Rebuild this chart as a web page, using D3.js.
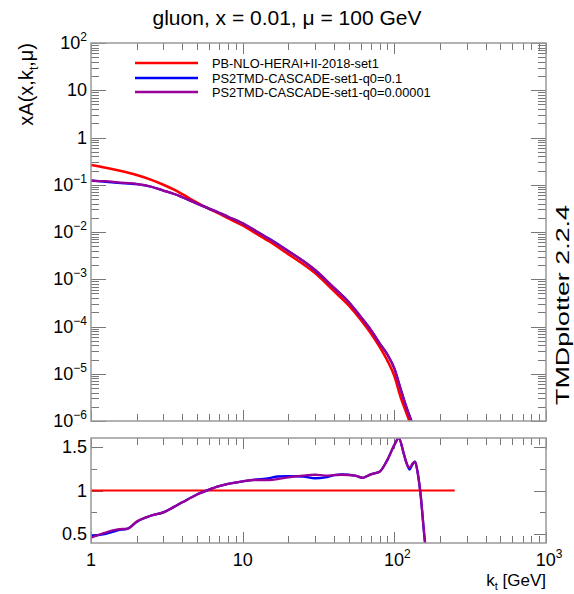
<!DOCTYPE html>
<meta charset="utf-8">
<script src="https://d3js.org/d3.v7.min.js"></script>
<style>
  body { margin: 0; background: #fff; }
  text { font-family: "Liberation Sans", Arial, sans-serif; fill: #000; }
</style>
<div id="chart"></div>
<script>

// kt grid for the upper panel (GeV)
var kt = [1, 1.25, 1.5, 2, 2.5, 3, 3.5, 4, 5, 6, 7, 8, 10, 12, 15, 20, 25, 30, 40, 50,
          60, 70, 80, 90, 100, 110, 120, 130, 140, 160, 200, 250];
var redVals = [0.262, 0.229, 0.202, 0.1607, 0.127, 0.1002, 0.0795, 0.063, 0.0418, 0.031, 0.0244, 0.0196,
               0.0138, 0.0097, 0.0063, 0.0034, 0.0021, 0.00135, 5.6e-4, 2.8e-4,
               1.4e-4, 7.2e-5, 3.7e-5, 1.9e-5, 9e-6, 3.2e-6, 1.5e-6, 7.5e-7, 4e-7, 1.2e-7, 2e-8, 2e-9];
var blueVals = [0.124, 0.1156, 0.110, 0.1028, 0.0907, 0.0752, 0.0644, 0.0545, 0.0399, 0.0313, 0.0256, 0.0211,
                0.01525, 0.0109, 0.00718, 0.00396, 0.00244, 0.00154, 6.58e-4, 3.3e-4,
                1.61e-4, 8.5e-5, 4.4e-5, 2.55e-5, 1.3e-5, 4.8e-6, 1.98e-6, 9.75e-7, 5.1e-7, 4.6e-8, null, null];
var purpleVals = [0.121, 0.119, 0.112, 0.1037, 0.0907, 0.0752, 0.0644, 0.0545, 0.0399, 0.0313, 0.0256, 0.0211,
                  0.01525, 0.0109, 0.00706, 0.00391, 0.00246, 0.00159, 6.58e-4, 3.3e-4,
                  1.61e-4, 8.5e-5, 4.4e-5, 2.55e-5, 1.3e-5, 4.8e-6, 1.98e-6, 9.75e-7, 5.1e-7, 4.6e-8, null, null];

// ratio panel (to PB-NLO-HERAI+II-2018-set1)
var ratioKt = [1, 1.25, 1.5, 1.75, 2, 2.5, 3, 3.5, 4, 5, 6, 7, 8, 10, 12, 15, 17, 20, 25, 30, 35, 40,
               45, 55, 62, 70, 80, 90, 100, 107, 115, 120, 126, 132, 137, 142, 148, 160, 170];
var ratioBlue = [0.48, 0.505, 0.545, 0.565, 0.64, 0.714, 0.75, 0.81, 0.865, 0.955, 1.01, 1.05, 1.075, 1.105,
                 1.125, 1.14, 1.16, 1.165, 1.16, 1.14, 1.15, 1.175, 1.185, 1.17, 1.145, 1.185, 1.215,
                 1.35, 1.52, 1.6, 1.43, 1.32, 1.24, 1.3, 1.33, 1.22, 1.0, 0.38, 0.1];
var ratioPurple = [0.46, 0.52, 0.555, 0.565, 0.645, 0.714, 0.75, 0.81, 0.865, 0.955, 1.01, 1.05, 1.075, 1.105,
                   1.12, 1.12, 1.13, 1.15, 1.17, 1.18, 1.17, 1.175, 1.18, 1.17, 1.145, 1.185, 1.215,
                   1.35, 1.52, 1.6, 1.43, 1.32, 1.26, 1.31, 1.33, 1.22, 1.0, 0.38, 0.1];
var ratioRefKt = [1, 250];
var ratioRef = [1, 1];

var seriesNames = ["PB-NLO-HERAI+II-2018-set1", "PS2TMD-CASCADE-set1-q0=0.1", "PS2TMD-CASCADE-set1-q0=0.00001"];
var seriesColors = ["#ff0000", "#0000ff", "#990099"];

var yTickExp = [2, 1, 0, -1, -2, -3, -4, -5, -6];
var xTickExp = [0, 1, 2, 3];
var ratioTicks = [0.5, 1, 1.5];

var W = 574, H = 594;
var left = 91, right = 546;
var top1 = 43, bot1 = 421;
var top2 = 438, bot2 = 543;

var svg = d3.select("#chart").append("svg")
  .attr("width", W).attr("height", H);

var x = d3.scaleLog().domain([1, 1000]).range([left, right]);
var y = d3.scaleLog().domain([1e-6, 100]).range([bot1, top1]);
var yr = d3.scaleLinear().domain([0.4, 1.6]).range([bot2, top2]);

var axisCol = "#777";

// clip paths
var defs = svg.append("defs");
defs.append("clipPath").attr("id", "clip1").append("rect")
  .attr("x", left).attr("y", top1).attr("width", right - left).attr("height", bot1 - top1);
defs.append("clipPath").attr("id", "clip2").append("rect")
  .attr("x", left).attr("y", top2).attr("width", right - left).attr("height", bot2 - top2);

// minor log ticks
function logTicks(lo, hi) {
  var out = [];
  for (var e = lo; e < hi; e++) {
    for (var m = 2; m <= 9; m++) out.push(m * Math.pow(10, e));
  }
  return out;
}

function drawXTicks(yTop, yBot) {
  var g = svg.append("g").attr("stroke", axisCol).attr("stroke-width", 1);
  var majors = xTickExp.map(function(e) { return Math.pow(10, e); });
  var minors = logTicks(0, 3);
  [[majors, 11], [minors, 7]].forEach(function(p) {
    g.selectAll(null).data(p[0]).enter().append("line")
      .attr("x1", function(d) { return Math.round(x(d)) + 0.5; })
      .attr("x2", function(d) { return Math.round(x(d)) + 0.5; })
      .attr("y1", yBot).attr("y2", yBot - p[1]);
    g.selectAll(null).data(p[0]).enter().append("line")
      .attr("x1", function(d) { return Math.round(x(d)) + 0.5; })
      .attr("x2", function(d) { return Math.round(x(d)) + 0.5; })
      .attr("y1", yTop).attr("y2", yTop + p[1]);
  });
}

// upper panel y ticks
var g1 = svg.append("g").attr("stroke", axisCol).attr("stroke-width", 1);
var yMaj = yTickExp.map(function(e) { return Math.pow(10, e); });
var yMin = logTicks(-6, 2);
[[yMaj, 15], [yMin, 8]].forEach(function(p) {
  g1.selectAll(null).data(p[0]).enter().append("line")
    .attr("x1", left).attr("x2", left + p[1])
    .attr("y1", function(d) { return Math.round(y(d)) + 0.5; })
    .attr("y2", function(d) { return Math.round(y(d)) + 0.5; });
  g1.selectAll(null).data(p[0]).enter().append("line")
    .attr("x1", right).attr("x2", right - p[1])
    .attr("y1", function(d) { return Math.round(y(d)) + 0.5; })
    .attr("y2", function(d) { return Math.round(y(d)) + 0.5; });
});
drawXTicks(top1, bot1);

// ratio panel y ticks
var g2 = svg.append("g").attr("stroke", axisCol).attr("stroke-width", 1);
[[ratioTicks, 12], [[0.75, 1.25], 6]].forEach(function(p) {
  g2.selectAll(null).data(p[0]).enter().append("line")
    .attr("x1", left).attr("x2", left + p[1])
    .attr("y1", function(d) { return Math.round(yr(d)) + 0.5; })
    .attr("y2", function(d) { return Math.round(yr(d)) + 0.5; });
  g2.selectAll(null).data(p[0]).enter().append("line")
    .attr("x1", right).attr("x2", right - p[1])
    .attr("y1", function(d) { return Math.round(yr(d)) + 0.5; })
    .attr("y2", function(d) { return Math.round(yr(d)) + 0.5; });
});
drawXTicks(top2, bot2);

// curves
var line1 = d3.line()
  .defined(function(d) { return d[1] != null; })
  .x(function(d) { return x(d[0]); })
  .y(function(d) { return y(d[1]); })
  .curve(d3.curveMonotoneX);
var line2 = d3.line()
  .x(function(d) { return x(d[0]); })
  .y(function(d) { return yr(d[1]); })
  .curve(d3.curveMonotoneX);

var up = svg.append("g").attr("clip-path", "url(#clip1)");
[redVals, blueVals, purpleVals].forEach(function(vals, i) {
  up.append("path")
    .datum(d3.zip(kt, vals))
    .attr("d", line1)
    .attr("fill", "none")
    .attr("stroke", seriesColors[i])
    .attr("stroke-width", i === 0 ? 2.6 : 2.3);
});

var lo = svg.append("g").attr("clip-path", "url(#clip2)");
[[ratioRefKt, ratioRef], [ratioKt, ratioBlue], [ratioKt, ratioPurple]].forEach(function(s, i) {
  lo.append("path")
    .datum(d3.zip(s[0], s[1]))
    .attr("d", line2)
    .attr("fill", "none")
    .attr("stroke", seriesColors[i])
    .attr("stroke-width", i === 0 ? 2.2 : 2.3);
});

// frames
[[top1, bot1], [top2, bot2]].forEach(function(f) {
  svg.append("rect")
    .attr("x", left).attr("y", f[0])
    .attr("width", right - left).attr("height", f[1] - f[0])
    .attr("fill", "none").attr("stroke", "#999").attr("stroke-width", 1.5);
});

// tick labels
function powLabel(sel, e) {
  if (e === 0) { sel.text("1"); return; }
  if (e === 1) { sel.text("10"); return; }
  sel.append("tspan").text("10");
  sel.append("tspan").attr("dy", -8).attr("font-size", 12).text(e < 0 ? "\u2212" + (-e) : e);
}

yTickExp.forEach(function(e) {
  var t = svg.append("text")
    .attr("x", 87).attr("y", y(Math.pow(10, e)) + 6)
    .attr("text-anchor", "end").attr("font-size", 18);
  powLabel(t, e);
});

ratioTicks.forEach(function(v) {
  svg.append("text")
    .attr("x", 87).attr("y", yr(v) + 6)
    .attr("text-anchor", "end").attr("font-size", 18)
    .text(v);
});

xTickExp.forEach(function(e) {
  var t = svg.append("text")
    .attr("x", x(Math.pow(10, e)) + (e >= 2 ? 3 : 0)).attr("y", 566)
    .attr("text-anchor", "middle").attr("font-size", 18);
  powLabel(t, e);
});

// axis titles
var xt = svg.append("text").attr("x", right).attr("y", 586)
  .attr("text-anchor", "end").attr("font-size", 17);
xt.append("tspan").text("k");
xt.append("tspan").attr("dy", 4).attr("font-size", 11).text("t");
xt.append("tspan").attr("dy", -4).text(" [GeV]");

var yt = svg.append("text")
  .attr("transform", "translate(33," + top1 + ") rotate(-90)")
  .attr("text-anchor", "end").attr("font-size", 20);
yt.append("tspan").text("xA(x,k");
yt.append("tspan").attr("dy", 5).attr("font-size", 12).text("t");
yt.append("tspan").attr("dy", -5).text(",\u03bc)");

svg.append("text")
  .attr("x", 287).attr("y", 25)
  .attr("text-anchor", "middle").attr("font-size", 21)
  .text("gluon, x = 0.01, \u03bc = 100 GeV");

svg.append("text")
  .attr("transform", "translate(569,205) rotate(-90)")
  .attr("text-anchor", "end").attr("font-size", 18)
  .attr("textLength", 200).attr("lengthAdjust", "spacingAndGlyphs")
  .text("TMDplotter 2.2.4");

// legend
var legY = [63, 78, 92];
seriesNames.forEach(function(name, i) {
  svg.append("line")
    .attr("x1", 135).attr("x2", 198)
    .attr("y1", legY[i]).attr("y2", legY[i])
    .attr("stroke", seriesColors[i]).attr("stroke-width", 2.3);
  svg.append("text")
    .attr("x", 212).attr("y", legY[i] + 5)
    .attr("font-size", 12.8)
    .text(name);
});

</script>
